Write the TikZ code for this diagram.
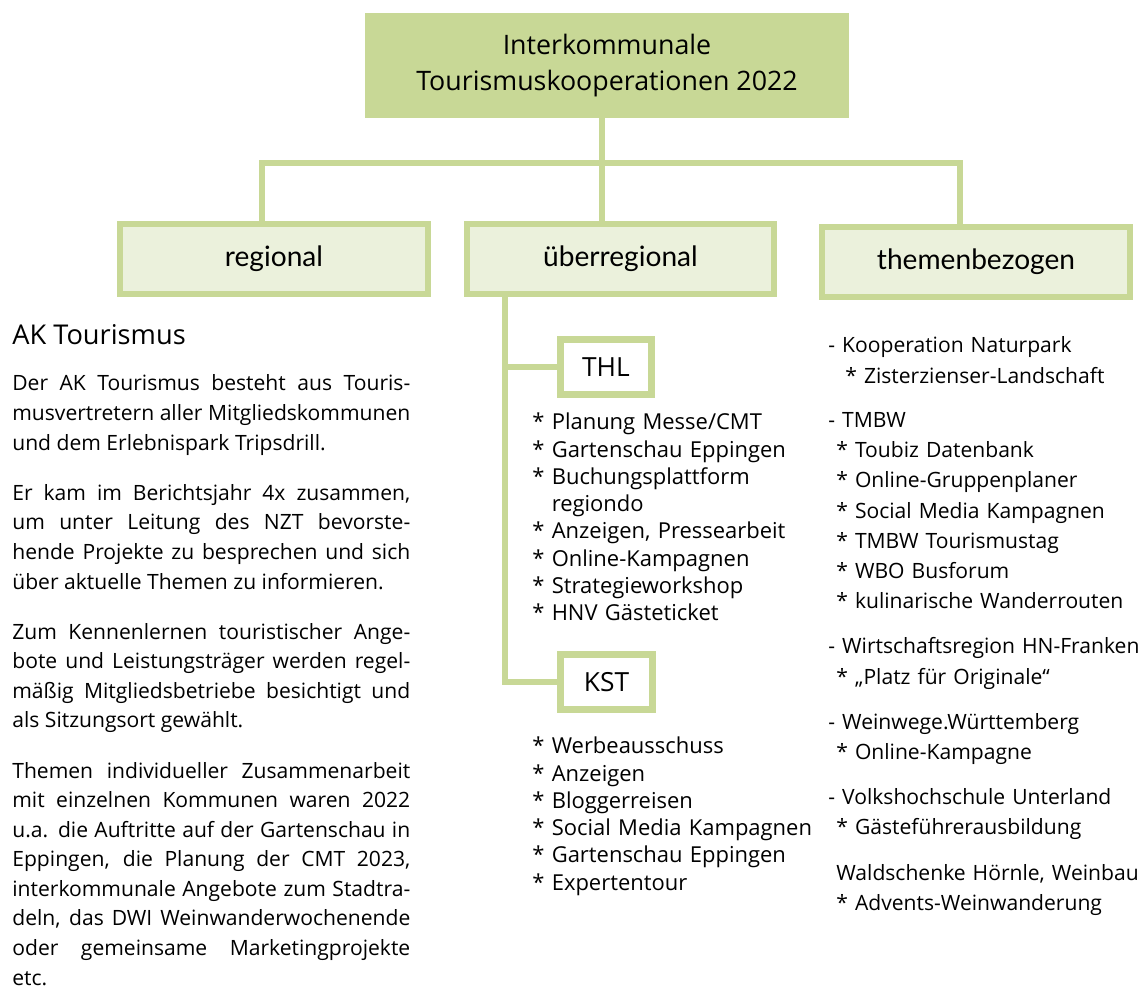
\documentclass[tikz,border=0pt]{standalone}
\usepackage{fontspec}
\setmainfont{Open Sans}
\newfontfamily\LabelFont{Lato}
\usepackage{tikz}
\usepackage{xcolor}
\definecolor{ColLine}{RGB}{200,216,150}
\definecolor{ColFill}{RGB}{235,241,220}
\tikzstyle{BoxTop}=[rectangle,fill=ColLine,minimum width=9.68cm,minimum height=2.1cm,
align=center,inner sep=0pt,font=\fontsize{15.25}{20.4}\selectfont]
\tikzstyle{BoxLevel}=[rectangle,draw=ColLine,fill=ColFill,line width=3.4pt,minimum width=6.16cm,
minimum height=1.4cm,inner sep=0pt,font=\LabelFont\fontsize{16}{19}\selectfont]
\tikzstyle{BoxSub}=[rectangle,draw=ColLine,fill=white,line width=3.8pt,minimum width=1.83cm,
minimum height=1.1cm,inner sep=0pt,font=\fontsize{15}{18}\selectfont]
\tikzstyle{EdgeOrg}=[ColLine,line width=3.4pt]
\tikzstyle{TextMid}=[anchor=base west,align=left,text width=6cm,inner sep=0pt,
font={\fontsize{12.5}{15.5}\selectfont\hyphenpenalty=10000}]
\tikzstyle{TextRight}=[anchor=base west,align=left,text width=7.5cm,inner sep=0pt,
font={\fontsize{12}{17.2}\selectfont\hyphenpenalty=10000}]
\tikzstyle{TextPara}=[anchor=base west,align=justify,text width=7.96cm,inner sep=0pt,
font={\fontsize{12}{16.8}\selectfont\hyphenpenalty=10000\parindent=0pt
\spaceskip=0.26em plus 2em minus 0.12em}]

\begin{document}
\begin{tikzpicture}[x=0.02cm,y=-0.02cm]
        \useasboundingbox(0,0)rectangle(1147,989);
        % top level
        \node[BoxTop](top)at(607,65.5){Interkommunale\\Tourismuskooperationen 2022};
        \node[BoxLevel](regional)at(274,259){regional};
        \node[BoxLevel](ueber)at(620.5,259){überregional};
        \node[BoxLevel](themen)at(976,262){themenbezogen};
        \coordinate(hub)at(602,163);
        \coordinate(busl)at(262,163);
        \coordinate(busr)at(960,163);
        \draw[EdgeOrg](top.south-|hub)--(ueber.north-|hub);
        \draw[EdgeOrg](regional.north-|busl)--(busl)--(busr)--(themen.north-|busr);
        % ueberregional
        \node[BoxSub](thl)at(606,367){THL};
        \node[BoxSub](kst)at(606.5,682){KST};
        \coordinate(spine)at(505,300);
        \draw[EdgeOrg](ueber.south-|spine)|-(kst.west);
        \draw[EdgeOrg](spine|-thl.west)--(thl.west);
        \node[TextMid](thlitems)at(532,430){* Planung Messe/CMT\\{*} Gartenschau Eppingen\\
            {*} Buchungsplattform\\\phantom{*\ }regiondo\\{*} Anzeigen, Pressearbeit\\
            {*} Online-Kampagnen\\{*} Strategieworkshop\\{*} HNV Gästeticket};
        \node[TextMid](kstitems)at(532,754){* Werbeausschuss\\{*} Anzeigen\\{*} Bloggerreisen\\
            {*} Social Media Kampagnen\\{*} Gartenschau Eppingen\\{*} Expertentour};
        % themenbezogen
        \node[TextRight](themitems)at(828,353){- Kooperation Naturpark\\
            \hspace*{0.34cm}* Zisterzienser-Landschaft\\[8pt]
            - TMBW\\\hspace*{0.16cm}* Toubiz Datenbank\\\hspace*{0.16cm}* Online-Gruppenplaner\\
            \hspace*{0.16cm}* Social Media Kampagnen\\\hspace*{0.16cm}* TMBW Tourismustag\\
            \hspace*{0.16cm}* WBO Busforum\\\hspace*{0.16cm}* kulinarische Wanderrouten\\[8.5pt]
            - Wirtschaftsregion HN-Franken\\\hspace*{0.16cm}* „Platz für Originale“\\[8.5pt]
            - Weinwege.Württemberg\\\hspace*{0.16cm}* Online-Kampagne\\[8.5pt]
            - Volkshochschule Unterland\\\hspace*{0.16cm}* Gästeführerausbildung\\[8.5pt]
            \hspace*{0.16cm}Waldschenke Hörnle, Weinbau\\\hspace*{0.16cm}* Advents-Weinwanderung};
        % regional
        \node[anchor=base west,inner sep=0pt,font=\fontsize{15.5}{18}\selectfont](akhead)at(12,345){AK Tourismus};
        \node[TextPara](aktext)at(12,391){Der AK Tourismus besteht aus Touris-\linebreak
            musvertretern aller Mitgliedskommunen\linebreak und dem Erlebnispark Tripsdrill.\par
            \vspace{11.9pt}Er kam im Berichtsjahr 4x zusammen,\linebreak um unter Leitung des NZT bevorste-\linebreak
            hende Projekte zu besprechen und sich\linebreak über aktuelle Themen zu informieren.\par
            \vspace{11.9pt}Zum Kennenlernen touristischer Ange-\linebreak bote und Leistungsträger werden regel-\linebreak
            mäßig Mitgliedsbetriebe besichtigt und\linebreak als Sitzungsort gewählt.\par
            \vspace{11.9pt}Themen individueller Zusammenarbeit\linebreak mit einzelnen Kommunen waren 2022\linebreak
            u.a. die Auftritte auf der Gartenschau in\linebreak Eppingen, die Planung der CMT 2023,\linebreak
            interkommunale Angebote zum Stadtra-\linebreak deln, das DWI Weinwanderwochenende\linebreak
            oder gemeinsame Marketingprojekte\linebreak etc.};
    \end{tikzpicture}
\end{document}
